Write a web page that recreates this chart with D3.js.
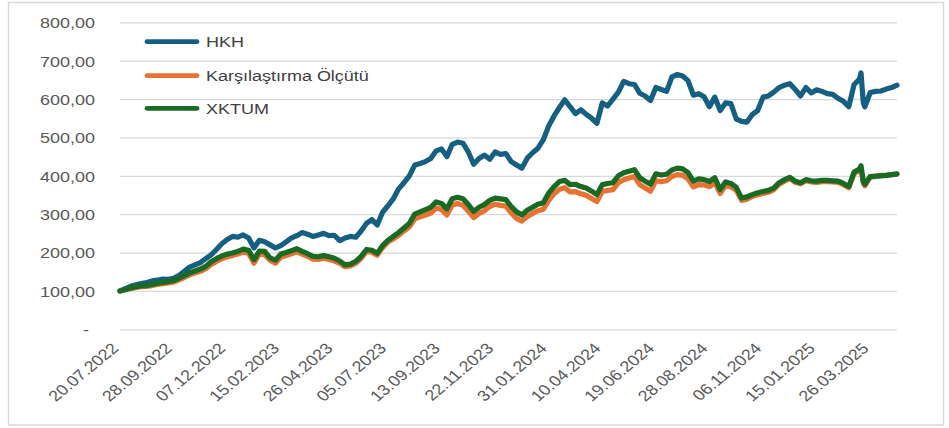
<!DOCTYPE html>
<html>
<head>
<meta charset="utf-8">
<script src="https://cdn.jsdelivr.net/npm/d3@7"></script>
<style>
  body { margin: 0; background: #ffffff; }
  text { font-family: "Liberation Sans", Arial, sans-serif; }
</style>
</head>
<body>
<svg id="chart" width="949" height="428"></svg>
<script>
// Weekly observation dates (plus two intra-week points around the March 2025 swing)
const dates = [
  "2022-07-20","2022-07-27","2022-08-03","2022-08-10","2022-08-17","2022-08-24","2022-08-31","2022-09-07","2022-09-14","2022-09-21",
  "2022-09-28","2022-10-05","2022-10-12","2022-10-19","2022-10-26","2022-11-02","2022-11-09","2022-11-16","2022-11-23","2022-11-30",
  "2022-12-07","2022-12-14","2022-12-21","2022-12-28","2023-01-04","2023-01-11","2023-01-18","2023-01-25","2023-02-01","2023-02-08",
  "2023-02-15","2023-02-22","2023-03-01","2023-03-08","2023-03-15","2023-03-22","2023-03-29","2023-04-05","2023-04-12","2023-04-19",
  "2023-04-26","2023-05-03","2023-05-10","2023-05-17","2023-05-24","2023-05-31","2023-06-07","2023-06-14","2023-06-21","2023-06-28",
  "2023-07-05","2023-07-12","2023-07-19","2023-07-26","2023-08-02","2023-08-09","2023-08-16","2023-08-23","2023-08-30","2023-09-06",
  "2023-09-13","2023-09-20","2023-09-27","2023-10-04","2023-10-11","2023-10-18","2023-10-25","2023-11-01","2023-11-08","2023-11-15",
  "2023-11-22","2023-11-29","2023-12-06","2023-12-13","2023-12-20","2023-12-27","2024-01-03","2024-01-10","2024-01-17","2024-01-24",
  "2024-01-31","2024-02-07","2024-02-14","2024-02-21","2024-02-28","2024-03-06","2024-03-13","2024-03-20","2024-03-27","2024-04-03",
  "2024-04-10","2024-04-17","2024-04-24","2024-05-01","2024-05-08","2024-05-15","2024-05-22","2024-05-29","2024-06-05","2024-06-12",
  "2024-06-19","2024-06-26","2024-07-03","2024-07-10","2024-07-17","2024-07-24","2024-07-31","2024-08-07","2024-08-14","2024-08-21",
  "2024-08-28","2024-09-04","2024-09-11","2024-09-18","2024-09-25","2024-10-02","2024-10-09","2024-10-16","2024-10-23","2024-10-30",
  "2024-11-06","2024-11-13","2024-11-20","2024-11-27","2024-12-04","2024-12-11","2024-12-18","2024-12-25","2025-01-01","2025-01-08",
  "2025-01-15","2025-01-22","2025-01-29","2025-02-05","2025-02-12","2025-02-19","2025-02-26","2025-03-05","2025-03-12","2025-03-14",
  "2025-03-17","2025-03-19","2025-03-26","2025-04-02","2025-04-09","2025-04-16","2025-04-23","2025-04-30"
];

const hkh = [
  100,106,112,116,119,122,126,128,131,130,
  133,140,151,162,168,174,184,194,208,223,
  234,242,240,246,238,212,232,228,220,212,
  218,228,238,244,252,248,242,246,250,244,
  245,231,238,242,240,256,276,286,272,305,
  322,340,366,382,400,428,432,437,445,465,
  470,450,482,488,485,462,430,445,454,443,
  462,456,458,437,428,420,446,460,472,494,
  530,556,578,598,580,562,572,560,550,537,
  590,582,600,618,646,640,638,615,608,596,
  630,625,620,658,664,660,648,610,614,606,
  580,605,570,590,588,548,542,540,560,570,
  605,608,618,630,636,640,625,608,630,616,
  624,620,614,612,602,594,580,638,652,668,
  590,580,617,620,621,626,630,636
];

const benchmark = [
  100,103,106,109,111,112,114,117,119,121,
  123,129,135,142,147,151,158,169,177,184,
  189,192,196,201,198,172,196,195,180,172,
  188,192,197,202,196,190,183,182,185,182,
  178,172,163,165,172,185,203,201,193,213,
  227,236,245,256,267,288,293,298,303,316,
  312,298,324,328,323,308,291,302,309,320,
  326,323,321,303,289,282,294,302,309,313,
  336,353,365,369,358,359,353,349,341,333,
  359,362,364,382,390,394,398,377,368,360,
  387,385,387,398,403,401,392,371,377,376,
  372,382,354,374,371,362,336,339,346,351,
  354,357,364,378,386,393,383,379,387,384,
  383,385,385,384,383,377,369,406,414,421,
  381,374,397,398,401,401,403,404
];

const xktum = [
  100,104,108,111,113,114,117,120,122,124,
  127,133,140,147,152,157,164,176,184,191,
  196,199,203,209,206,181,204,203,186,180,
  196,200,205,210,203,197,190,189,192,189,
  185,178,168,170,177,190,208,206,198,218,
  232,242,252,264,276,300,306,312,318,332,
  328,314,340,344,340,325,307,318,325,336,
  342,340,338,320,306,298,310,318,326,330,
  355,372,385,388,377,378,372,368,360,351,
  377,380,382,400,408,412,416,395,386,378,
  405,402,404,415,420,418,408,386,392,390,
  385,395,364,384,380,370,342,345,351,356,
  359,362,368,382,390,396,386,382,390,387,
  386,388,388,387,386,380,372,410,418,426,
  385,378,398,399,400,401,403,405
];

const seriesNames = ["HKH", "Karşılaştırma Ölçütü", "XKTUM"];
const seriesColors = ["#156082", "#E97132", "#196B24"];
const yTicks = [0, 100, 200, 300, 400, 500, 600, 700, 800];
const xTickLabels = [
  "20.07.2022","28.09.2022","07.12.2022","15.02.2023","26.04.2023","05.07.2023","13.09.2023","22.11.2023",
  "31.01.2024","10.04.2024","19.06.2024","28.08.2024","06.11.2024","15.01.2025","26.03.2025"
];

const svg = d3.select("#chart");
const stretch = 1.2;           // horizontal stretch applied to all labels
const plotLeft = 120, plotRight = 897, plotTop = 22.3, plotBottom = 329.3;

// Chart frame
svg.append("rect")
  .attr("x", 8.5).attr("y", 2.5).attr("width", 935).attr("height", 422.5)
  .attr("fill", "#ffffff").attr("stroke", "#d9d9d9").attr("stroke-width", 1.5);

const parseISO = d3.timeParse("%Y-%m-%d");
const parseLabel = d3.timeParse("%d.%m.%Y");
const dateObjs = dates.map(parseISO);

const x = d3.scaleTime()
  .domain([dateObjs[0], dateObjs[dateObjs.length - 1]])
  .range([plotLeft, plotRight]);
const y = d3.scaleLinear().domain([0, 800]).range([plotBottom, plotTop]);

const trLocale = d3.formatLocale({ decimal: ",", thousands: ".", grouping: [3], currency: ["", ""] });
const fmt2 = trLocale.format(",.2f");

// Y axis with horizontal gridlines
const yAxis = svg.append("g")
  .attr("transform", `translate(${plotLeft},0)`)
  .call(d3.axisLeft(y).tickValues(yTicks).tickSize(-(plotRight - plotLeft))
    .tickFormat(v => v === 0 ? "-" : fmt2(v)));
yAxis.select(".domain").remove();
yAxis.selectAll(".tick line").attr("stroke", "#d9d9d9").attr("stroke-width", 1.3);
yAxis.selectAll(".tick text")
  .attr("x", d => d === 0 ? -31 / stretch : -25 / stretch)
  .attr("dy", "0.36em")
  .attr("transform", `scale(${stretch},1)`)
  .attr("fill", "#595959")
  .style("font-size", "15px")
  .style("font-family", "'Liberation Sans', Arial, sans-serif");

// X axis with rotated date labels
const tickDates = xTickLabels.map(parseLabel);
const xAxis = svg.append("g")
  .attr("transform", `translate(0,${plotBottom})`)
  .call(d3.axisBottom(x).tickValues(tickDates).tickSize(0)
    .tickFormat((d, i) => xTickLabels[i]));
xAxis.select(".domain").remove();
xAxis.selectAll(".tick text")
  .attr("x", 0).attr("y", 0).attr("dy", 0)
  .attr("text-anchor", "end")
  .attr("transform", `translate(-1,20) scale(${stretch},1) rotate(-45)`)
  .attr("fill", "#595959")
  .style("font-size", "15px")
  .style("font-family", "'Liberation Sans', Arial, sans-serif");

// Series lines
const seriesValues = [hkh, benchmark, xktum];
const line = d3.line()
  .x(d => x(d.date))
  .y(d => y(d.value));

seriesValues.forEach((vals, i) => {
  const pts = vals.map((v, j) => ({ date: dateObjs[j], value: v }));
  svg.append("path")
    .datum(pts)
    .attr("d", line)
    .attr("fill", "none")
    .attr("stroke", seriesColors[i])
    .attr("stroke-width", 5.2)
    .attr("stroke-linejoin", "round")
    .attr("stroke-linecap", "round");
});

// Legend
const legendY = [41.7, 75.7, 108.3];
const legend = svg.append("g");
seriesNames.forEach((name, i) => {
  legend.append("line")
    .attr("x1", 147).attr("x2", 197)
    .attr("y1", legendY[i]).attr("y2", legendY[i])
    .attr("stroke", seriesColors[i]).attr("stroke-width", 4.8)
    .attr("stroke-linecap", "round");
  legend.append("text")
    .attr("transform", `translate(206,${legendY[i]}) scale(${stretch},1)`)
    .attr("dy", "0.36em")
    .attr("fill", "#404040")
    .style("font-size", "15px")
    .text(name);
});
</script>
</body>
</html>
